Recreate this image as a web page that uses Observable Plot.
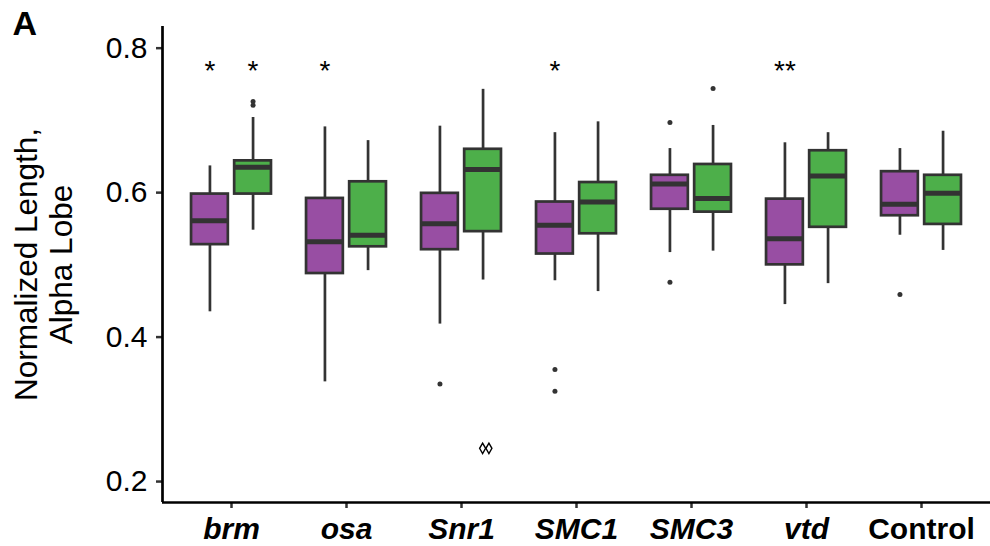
<!DOCTYPE html>
<html>
<head>
<meta charset="utf-8">
<script src="https://cdn.jsdelivr.net/npm/d3@7"></script>
<script src="https://cdn.jsdelivr.net/npm/@observablehq/plot@0.6"></script>
<style>
  html, body { margin: 0; padding: 0; background: #fff; }
  #chart svg { display: block; }
</style>
</head>
<body>
<div id="chart"></div>
<script>
// ---- Data ----
const categories = ["brm", "osa", "Snr1", "SMC1", "SMC3", "vtd", "Control"];
const groups = ["Group 1", "Group 2"];
const groupColors = ["#984EA3", "#4DAF4A"];
const yTicks = [0.2, 0.4, 0.6, 0.8];

// [lower whisker, Q1, median, Q3, upper whisker] per category
const purpleStats = [
  [0.435, 0.528, 0.561, 0.598, 0.637],
  [0.338, 0.488, 0.532, 0.592, 0.691],
  [0.418, 0.521, 0.557, 0.599, 0.692],
  [0.478, 0.515, 0.555, 0.587, 0.683],
  [0.517, 0.577, 0.612, 0.624, 0.661],
  [0.445, 0.500, 0.536, 0.591, 0.669],
  [0.541, 0.568, 0.584, 0.629, 0.661]
];
const greenStats = [
  [0.548, 0.598, 0.635, 0.644, 0.704],
  [0.492, 0.525, 0.541, 0.615, 0.672],
  [0.479, 0.546, 0.632, 0.660, 0.743],
  [0.463, 0.543, 0.587, 0.614, 0.698],
  [0.519, 0.573, 0.592, 0.639, 0.693],
  [0.474, 0.552, 0.623, 0.658, 0.683],
  [0.520, 0.556, 0.599, 0.624, 0.685]
];
const purpleOutliers = [[], [], [0.335], [0.355, 0.325], [0.697, 0.476], [], [0.459]];
const greenOutliers  = [[0.721, 0.726], [], [], [], [0.744], [], []];

// significance annotations
const sigCategory = ["brm", "brm", "osa", "SMC1", "vtd"];
const sigGroup    = [0, 1, 0, 0, 0];
const sigText     = ["*", "*", "*", "*", "**"];
const sigY = 0.768;

// open-diamond annotation (two diamonds) near Snr1
const diamondCategory = "Snr1";
const diamondCount = 2;
const diamondY = 0.246;

const yTitle = "Normalized Length,\nAlpha Lobe";
const panelLabel = "A";

// ---- Build tables ----
const dodge = [-0.1875, 0.1875];
const halfW = 0.16;
const statsBy = [purpleStats, greenStats];
const outBy = [purpleOutliers, greenOutliers];
const rows = [];
const outRows = [];
categories.forEach((c, i) => {
  groups.forEach((g, k) => {
    const [lo, q1, med, q3, hi] = statsBy[k][i];
    rows.push({cat: c, group: g, x: i + dodge[k], lo, q1, med, q3, hi});
    outBy[k][i].forEach(v => outRows.push({cat: c, group: g, x: i + dodge[k], y: v}));
  });
});
const sigRows = sigCategory.map((c, j) => ({
  x: categories.indexOf(c) + dodge[sigGroup[j]], text: sigText[j], y: sigY
}));
const diamondX = categories.indexOf(diamondCategory) + 0.211;
const diamondRows = d3.range(diamondCount).map(j => ({x: diamondX, y: diamondY, k: j}));

const yDomain = [0.171, 0.830];
const xDomain = [-0.6, categories.length - 0.4];
const font = "'Liberation Sans', Arial, Helvetica, sans-serif";

const chart = Plot.plot({
  width: 990,
  height: 546,
  marginLeft: 162,
  marginRight: 0,
  marginTop: 26,
  marginBottom: 44,
  style: {fontFamily: font, background: "#fff", color: "#000"},
  x: {type: "linear", domain: xDomain, axis: null},
  y: {domain: yDomain, axis: null},
  color: {domain: groups, range: groupColors},
  marks: [
    // whiskers
    Plot.ruleX(rows, {x: "x", y1: "lo", y2: "hi", stroke: "#333333", strokeWidth: 2.7}),
    // boxes
    Plot.rect(rows, {x1: d => d.x - halfW, x2: d => d.x + halfW, y1: "q1", y2: "q3",
      fill: "group", stroke: "#333333", strokeWidth: 2.7}),
    // medians
    Plot.ruleY(rows, {y: "med", x1: d => d.x - halfW, x2: d => d.x + halfW,
      stroke: "#333333", strokeWidth: 5}),
    // outliers
    Plot.dot(outRows, {x: "x", y: "y", r: 2.5, fill: "#333333", stroke: null}),
    // significance stars
    Plot.text(sigRows, {x: "x", y: "y", text: "text", fontSize: 28, fill: "#000"}),
    // diamonds
    Plot.dot(diamondRows.filter(d => d.k === 0), {x: "x", y: "y", symbol: "diamond", r: 3.15,
      dx: -3.15, stroke: "#000", strokeWidth: 1.4, fill: "none"}),
    Plot.dot(diamondRows.filter(d => d.k === 1), {x: "x", y: "y", symbol: "diamond", r: 3.15,
      dx: 3.15, stroke: "#000", strokeWidth: 1.4, fill: "none"}),
    // axes
    Plot.axisY({ticks: yTicks, tickFormat: d3.format(".1f"), tickSize: 6, tickPadding: 9,
      fontSize: 30, label: null, stroke: "#333333", strokeWidth: 2.5, fill: "#000"}),
    Plot.axisX({ticks: d3.range(6), tickFormat: i => categories[i], tickSize: 6, tickPadding: 9,
      fontSize: 30, fontWeight: "bold", fontStyle: "italic", label: null,
      stroke: "#333333", strokeWidth: 2.5, fill: "#000"}),
    Plot.axisX({ticks: [6], tickFormat: i => categories[i], tickSize: 6, tickPadding: 9,
      fontSize: 30, fontWeight: "bold", label: null,
      stroke: "#333333", strokeWidth: 2.5, fill: "#000"}),
    Plot.ruleX([xDomain[0]], {stroke: "#000", strokeWidth: 2.7}),
    Plot.ruleY([yDomain[0]], {stroke: "#000", strokeWidth: 2.7}),
    // y title
    Plot.text([yTitle], {frameAnchor: "left", text: d => d, rotate: -90, dx: -119.2,
      fontSize: 31.5, lineHeight: 1.13, lineAnchor: "middle", textAnchor: "middle", fill: "#000"}),
    // panel letter
    Plot.text([panelLabel], {frameAnchor: "top-left", text: d => d, dx: -150, dy: -2.5,
      lineAnchor: "middle", textAnchor: "start", fontSize: 34, fontWeight: "bold", fill: "#000"})
  ]
});
document.getElementById("chart").appendChild(chart);
</script>
</body>
</html>
